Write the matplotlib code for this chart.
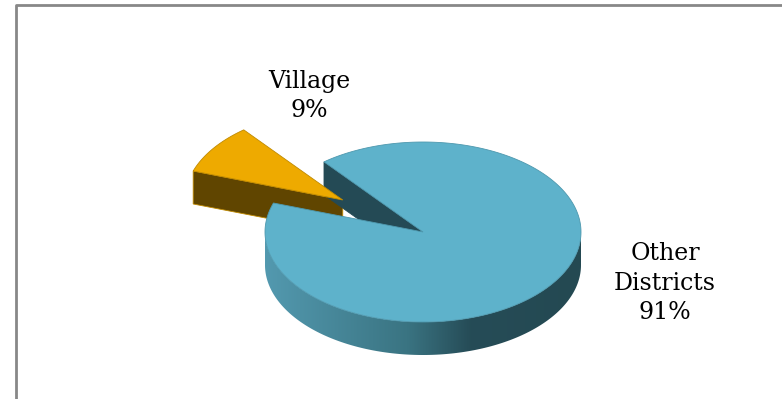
import numpy as np
import matplotlib
matplotlib.use("Agg")
import matplotlib.pyplot as plt
from matplotlib.patches import Polygon
from matplotlib.colors import LinearSegmentedColormap

# slices, counter-clockwise starting from the Village wedge
labels = ["Village", "Other\nDistricts"]
shares = [9, 91]
explode = [0.62, 0.0]
top_colors = ["#EEAA00", "#5EB2CB"]
side_colors = ["#604500", "#244A55"]
edge_colors = ["#C08A00", "#4E98AE"]

# pie geometry in pixel units
cx, cy = 423, 232
rx, ry = 158, 90
depth = 33
start_angle = 145 - shares[0] / sum(shares) * 360 / 2

fig = plt.figure(figsize=(7.82, 3.99), dpi=100)
ax = fig.add_axes([0, 0, 1, 1])
ax.set_xlim(0, 782)
ax.set_ylim(399, 0)
ax.axis("off")

# frame (only left and top edges are visible)
ax.plot([15.5, 15.5, 782], [399, 5, 5], color="#888888", lw=2, solid_capstyle="butt")


def pt(x0, y0, ang, dz=0.0):
    a = np.radians(ang)
    return np.column_stack([x0 + rx * np.cos(a), y0 - ry * np.sin(a) + dz])


side_cmap = LinearSegmentedColormap.from_list(
    "side", [(0, "#5399AF"), (0.45, "#3A7482"), (0.65, "#264C57"), (1, "#244952")])

angles = []
a0 = start_angle
for s in shares:
    a1 = a0 + s / sum(shares) * 360
    angles.append((a0, a1))
    a0 = a1

for i, (a0, a1) in enumerate(angles):
    mid = np.radians((a0 + a1) / 2)
    x0 = cx + explode[i] * rx * np.cos(mid)
    y0 = cy - explode[i] * ry * np.sin(mid)
    apex = np.array([[x0, y0]])
    down = np.array([0, depth])

    # radial face at the end of the slice (faces the viewer here)
    outer = pt(x0, y0, a1)
    face = np.vstack([apex, outer, outer + down, apex + down])
    ax.add_patch(Polygon(face, closed=True, fc=side_colors[i], ec=edge_colors[i] if i == 0 else side_colors[i], lw=0.6))

    # curved outer wall, front half only
    lo, hi = max(a0, 180), min(a1, 360)
    if hi > lo:
        arc = np.linspace(lo, hi, 200)
        top = pt(x0, y0, arc)
        wall = np.vstack([top, (top + down)[::-1]])
        patch = Polygon(wall, closed=True, fc="none", ec="none")
        ax.add_patch(patch)
        grad = np.linspace(0, 1, 256).reshape(1, -1)
        img = ax.imshow(grad, cmap=side_cmap, aspect="auto",
                        extent=[wall[:, 0].min(), wall[:, 0].max(), wall[:, 1].max(), wall[:, 1].min()],
                        interpolation="bilinear", zorder=1)
        img.set_clip_path(patch)
        ax.set_xlim(0, 782)
        ax.set_ylim(399, 0)

    # top face
    arc = np.linspace(a0, a1, 300)
    top = np.vstack([apex, pt(x0, y0, arc)])
    ax.add_patch(Polygon(top, closed=True, fc=top_colors[i], ec=edge_colors[i], lw=0.6, zorder=2))

# data labels
pct = [f"{s}%" for s in shares]
ax.text(309, 96, f"{labels[0]}\n{pct[0]}", ha="center", va="center",
        family="DejaVu Serif", fontsize=17, linespacing=1.38)
ax.text(665, 283, f"{labels[1]}\n{pct[1]}", ha="center", va="center",
        family="DejaVu Serif", fontsize=17, linespacing=1.38)

fig.savefig("out.png", dpi=100)
